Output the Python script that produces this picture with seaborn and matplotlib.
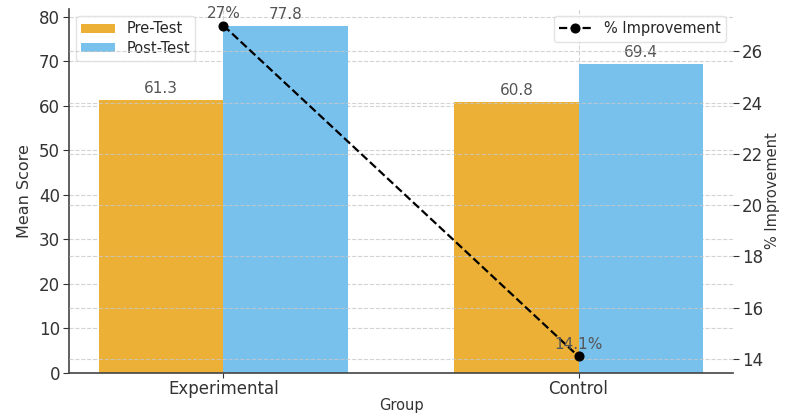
import matplotlib
matplotlib.use("Agg")
import matplotlib.pyplot as plt
import seaborn as sns
import pandas as pd

# Mean scores per group
groups = ["Experimental", "Control"]
pre_test = [61.3, 60.8]
post_test = [77.8, 69.4]
improvement = [27.0, 14.1]
improvement_labels = ["27%", "14.1%"]

phase_names = ["Pre-Test", "Post-Test"]
phase_colors = ["#EBB035", "#78C1EC"]

df = pd.DataFrame({
    "Group": groups * 2,
    "Phase": [phase_names[0]] * len(groups) + [phase_names[1]] * len(groups),
    "Mean Score": pre_test + post_test,
})

sns.set_theme(style="white")
plt.rcParams["font.family"] = ["DejaVu Sans"]

TEXT = "#333333"
GRID = dict(linestyle="--", color="#C8C8C8", linewidth=0.8, alpha=0.8)

W, H = 785, 416
fig = plt.figure(figsize=(W / 100, H / 100), dpi=100)
left, right, top, bottom = 69, 733, 9, 373
ax1 = fig.add_axes([left / W, 1 - bottom / H, (right - left) / W, (bottom - top) / H])

sns.barplot(data=df, x="Group", y="Mean Score", hue="Phase",
            palette=phase_colors, saturation=1, width=0.7,
            linewidth=0, ax=ax1, zorder=2)

for cont in ax1.containers:
    ax1.bar_label(cont, fmt="%.1f", padding=3, fontsize=11, color="#555555")

ax1.set_xlim(-0.435, 1.435)
ax1.set_ylim(0, max(post_test) * 1.05)
ax1.set_yticks(range(0, 81, 10))
ax1.xaxis.grid(True, **GRID)
ax1.yaxis.grid(True, **GRID)
ax1.set_axisbelow(True)
ax1.set_xlabel("Group", fontsize=10.5, color=TEXT, labelpad=0)
ax1.set_ylabel("Mean Score", fontsize=11.5, color=TEXT, labelpad=5)
ax1.tick_params(axis="y", labelsize=12, colors=TEXT, length=4,
                width=0.8, left=True, pad=2.5)
ax1.tick_params(axis="x", labelsize=12, colors=TEXT, length=3.5,
                width=0.8, bottom=True, pad=1.5)
for side in ["top", "right"]:
    ax1.spines[side].set_visible(False)
for side in ["left", "bottom"]:
    ax1.spines[side].set_color("#444444")
    ax1.spines[side].set_linewidth(1.2)
ax1.legend(loc="upper left", fontsize=10.5, frameon=True, fancybox=True,
           edgecolor="#DDDDDD", borderpad=0.35, labelspacing=0.3,
           handlelength=2.3, handleheight=0.6, borderaxespad=0.5)

ax2 = ax1.twinx()
sns.lineplot(x=[0, 1], y=improvement, ax=ax2, color="black", linestyle="--",
             linewidth=1.6, marker="o", markersize=6.5, markeredgecolor="black",
             label="% Improvement")
ax2.set_xlim(-0.435, 1.435)
ax2.margins(y=0.05)
ax2.set_yticks(range(14, 27, 2))
for xi, yi, txt in zip([0, 1], improvement, improvement_labels):
    ax2.annotate(txt, (xi, yi), xytext=(0, 3), textcoords="offset points",
                 ha="center", va="bottom", fontsize=11, color="#555555")
ax2.set_ylabel("% Improvement", fontsize=10.5, color=TEXT, labelpad=1)
ax2.tick_params(axis="y", labelsize=12, colors=TEXT, length=4, width=0.8,
                right=True, pad=2.5)
ax2.yaxis.grid(True, **GRID)
for side in ax2.spines:
    ax2.spines[side].set_visible(False)
ax2.legend(loc="upper right", fontsize=10.5, frameon=True, fancybox=True,
           edgecolor="#DDDDDD", borderpad=0.35, handlelength=2.3,
           borderaxespad=0.5)

fig.savefig("out.png", dpi=100)
